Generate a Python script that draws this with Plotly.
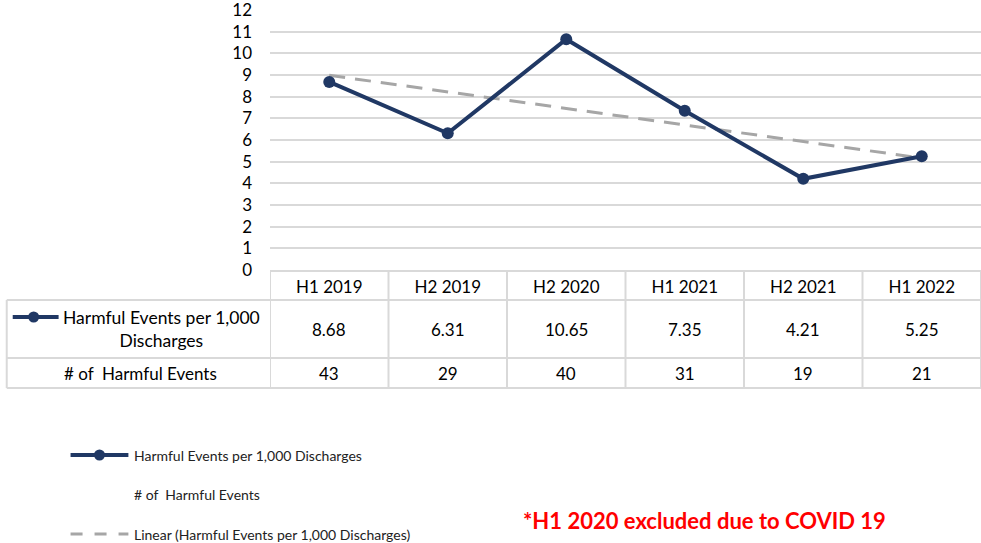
import numpy as np
import plotly.graph_objects as go

categories = ["H1 2019", "H2 2019", "H2 2020", "H1 2021", "H2 2021", "H1 2022"]
rate_values = [8.68, 6.31, 10.65, 7.35, 4.21, 5.25]
event_counts = [43, 29, 40, 31, 19, 21]
series_rate_name = "Harmful Events per 1,000 Discharges"
series_count_name = "# of  Harmful Events"
trend_name = "Linear (Harmful Events per 1,000 Discharges)"
note_text = "*H1 2020 excluded due to COVID 19"
y_ticks = list(range(0, 13))

W, H = 981, 543
PL, PR, PT, PB = 270, 983, 10, 270   # plot area in page pixels
L, T = PL, PT
R = max(0, W - PR)
B = H - PB
PW = PR - PL
PH = PB - PT

def px(xp):
    return (xp - PL) / PW

def py(yp):
    return (PB - yp) / PH

NAVY = "#203864"
GRAY = "#A6A6A6"
BORDER = "#D9D9D9"
FONT = "Lato, Carlito, Calibri, sans-serif"
DASH = "16px,10px"

xi = np.arange(len(rate_values))
slope, intercept = np.polyfit(xi, rate_values, 1)
trend_vals = slope * xi + intercept

fig = go.Figure()
fig.add_trace(go.Scatter(
    x=categories, y=list(trend_vals), mode="lines", name=trend_name,
    line=dict(color=GRAY, width=3, dash=DASH), showlegend=False, hoverinfo="skip"))
fig.add_trace(go.Scatter(
    x=categories, y=rate_values, mode="lines+markers", name=series_rate_name,
    line=dict(color=NAVY, width=4), marker=dict(size=12, color=NAVY),
    showlegend=False))

shapes = []
line_style = dict(color=BORDER, width=2)
for i in range(len(categories) + 1):
    shapes.append(dict(type="line", xref="x", yref="paper", x0=i - 0.5, x1=i - 0.5,
                       y0=py(271), y1=py(388), line=line_style))
shapes.append(dict(type="line", xref="paper", yref="paper", x0=px(6), x1=px(6),
                   y0=py(300), y1=py(388), line=line_style))
shapes.append(dict(type="line", xref="paper", yref="paper", x0=0, x1=1,
                   y0=py(271), y1=py(271), line=line_style))
for yy in (300, 358, 388):
    shapes.append(dict(type="line", xref="paper", yref="paper", x0=px(6), x1=1,
                       y0=py(yy), y1=py(yy), line=line_style))

def key_line_marker(x0, x1, y, xm):
    shapes.append(dict(type="line", xref="paper", yref="paper", x0=px(x0), x1=px(x1),
                       y0=py(y), y1=py(y), line=dict(color=NAVY, width=4)))
    r = 5.5
    shapes.append(dict(type="circle", xref="paper", yref="paper",
                       x0=px(xm - r), x1=px(xm + r), y0=py(y + r), y1=py(y - r),
                       fillcolor=NAVY, line=dict(color=NAVY, width=0)))

key_line_marker(12, 58, 317, 33)
key_line_marker(70, 128, 455, 99)
shapes.append(dict(type="line", xref="paper", yref="paper", x0=px(70), x1=px(128),
                   y0=py(534), y1=py(534), line=dict(color=GRAY, width=3, dash="12px,12px")))

TF = dict(size=17, color="#000", family=FONT)
annotations = []
for i, c in enumerate(categories):
    annotations.append(dict(x=c, y=py(329), xref="x", yref="paper", text=f"{rate_values[i]:.2f}",
                            showarrow=False, xanchor="center", yanchor="middle", font=TF))
    annotations.append(dict(x=c, y=py(373), xref="x", yref="paper", text=str(event_counts[i]),
                            showarrow=False, xanchor="center", yanchor="middle", font=TF))
annotations.append(dict(x=px(161), y=py(329), xref="paper", yref="paper",
                        text="Harmful Events per 1,000<br>Discharges", showarrow=False,
                        align="center", xanchor="center", yanchor="middle",
                        font=dict(size=17.5, color="#000", family=FONT)))
annotations.append(dict(x=px(140), y=py(373), xref="paper", yref="paper",
                        text=series_count_name, showarrow=False,
                        xanchor="center", yanchor="middle", font=TF))
for text, yy in [(series_rate_name, 455), (series_count_name, 494), (trend_name, 534)]:
    annotations.append(dict(x=px(132), y=py(yy), xref="paper", yref="paper", text=text,
                            showarrow=False, xanchor="left", yanchor="middle",
                            font=dict(size=14, color="#222", family=FONT)))
annotations.append(dict(x=px(706), y=py(520), xref="paper", yref="paper", text=f"<b>{note_text}</b>",
                        showarrow=False, xanchor="center", yanchor="middle",
                        font=dict(size=22, color="#FF0000", family=FONT)))

fig.update_layout(
    width=W, height=H, margin=dict(l=L, r=R, t=T, b=B, pad=0, autoexpand=False),
    paper_bgcolor="white", plot_bgcolor="white",
    font=dict(family=FONT, color="#000", size=17),
    shapes=shapes, annotations=annotations, showlegend=False,
)
fig.update_xaxes(type="category", range=[-0.5, 5.5], showgrid=False, showline=False,
                 ticks="", ticklabelstandoff=5, tickfont=TF)
fig.update_yaxes(range=[0, 12], tickvals=y_ticks, showgrid=True, gridcolor=BORDER, gridwidth=1.5,
                 zeroline=False, showline=False, ticks="", ticklabelstandoff=17,
                 ticklabeloverflow="allow", tickfont=TF)

fig.write_html("out.html", config={"displayModeBar": False},
               post_script="document.body.style.margin='0';document.body.style.overflow='hidden';")
